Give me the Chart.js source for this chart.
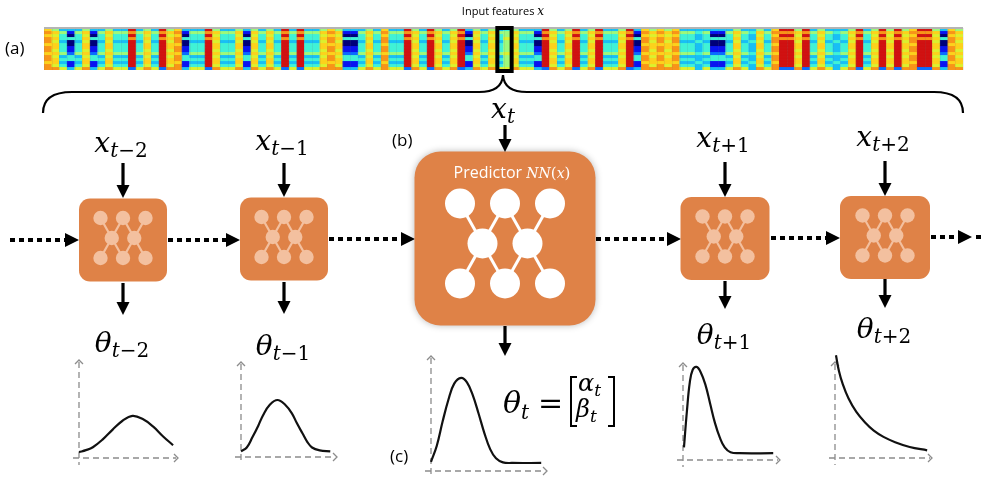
<!DOCTYPE html>
<html>
<head>
<meta charset="utf-8">
<script src="https://cdn.jsdelivr.net/npm/chart.js@4.4.1/dist/chart.umd.min.js"></script>
<style>
  html, body { margin: 0; padding: 0; background: #fff; }
  #stage { position: relative; width: 981px; height: 477px; overflow: hidden; background: #fff; }
  .frame { position: absolute; }
</style>
</head>
<body>
<div id="stage">
  <div class="frame" style="left:0;top:0;width:981px;height:477px"><canvas id="diagram"></canvas></div>
  <div class="frame" style="left:36px;top:20px;width:935px;height:58px"><canvas id="strip"></canvas></div>
</div>
<script>
// ---- input feature strip: one letter per time column, one digit per feature row ----
const featureColumns = [
  "OYCBCYBCYC", "CRCYCRYOBC", "CRYCCYBYCY", "CRCRCCYOYB",
  "BCYCOCCRYC", "RYCYRBYCYC", "GYCCBRYCYR", "CYRCCYRBOY",
  "OYOCCLCBBC", "YCLYCORRYR", "CYCLCYRCYR", "YRYORRYBOY"
].join("");
const columnLevels = {
  B: "31040011244113",
  R: "98989999999992",
  C: "35443444534346",
  Y: "57676776767768",
  O: "78788788788788",
  G: "45565555655556",
  L: "34334333433433"
};
const selectedColumns = [59, 60];

// ---- time steps and the distributions predicted at each one ----
const steps = ["t\u22122", "t\u22121", "t", "t+1", "t+2"];
const densityTm2 = [[0,6],[7,8],[14,11],[24,19],[34,29],[44,38],[54,43],[64,40],[75,32],[85,22],[95,13]];
const densityTm1 = [[0,6],[6,10],[12,21],[18,33],[23,44],[30,55],[38,60],[46,55],[53,46],[58,36],[64,25],[69,16],[74,10],[82,7],[93,6]];
const densityT   = [[0,8],[5,22],[10,43],[15,62],[20,76],[26,81],[31,77],[36,66],[41,50],[46,33],[51,19],[56,11],[62,7.5],[70,7],[95,7]];
const densityTp1 = [[1,13],[4,50],[7,80],[10,93],[14,96],[18,91],[23,78],[28,58],[33,38],[38,23],[43,13],[49,8],[58,7],[93,7]];
const densityTp2 = [[1,107],[4,91],[8,77],[14,62],[22,48],[31,37],[40,28.5],[50,22],[62,16.5],[77,11.5],[95,8]];
const densities = [densityTm2, densityTm1, densityT, densityTp1, densityTp2];

// ---- styling / layout ----
const jet = ["#00007a", "#0a14f0", "#0a6cff", "#18bff5", "#40f2d6", "#9ef97a", "#dcf02e", "#fcd21c", "#f89418", "#d01212"];
const ORANGE = "#df8247";
const PEACH = "#f3c09f";
const SERIF = '"DejaVu Serif"';
const SANS = '"Open Sans"';

const nodeLayout = [
  { cx: 123, cy: 240,   w: 88,  h: 83,  r: 11, labelY: 152, thetaY: 352, inTop: 163, inTip: 198, outTop: 283, outTip: 315 },
  { cx: 284, cy: 239,   w: 88,  h: 83,  r: 11, labelY: 150, thetaY: 355, inTop: 163, inTip: 197, outTop: 282, outTip: 314 },
  { cx: 505, cy: 238.5, w: 181, h: 174, r: 26, labelY: 118, inTop: 125, inTip: 152, outTop: 326, outTip: 356, big: true },
  { cx: 725, cy: 238.5, w: 89,  h: 83,  r: 11, labelY: 147, thetaY: 344, inTop: 162, inTip: 197, outTop: 281, outTip: 309 },
  { cx: 885, cy: 237.5, w: 90,  h: 83,  r: 11, labelY: 146, thetaY: 338, inTop: 161, inTip: 196, outTop: 279, outTip: 308 }
];
const chainLinks = [[10, 79, 240], [168, 240, 240], [329, 415, 239], [596, 681, 239], [771, 840, 238], [931, 972, 237]];
const plotFrames = [
  { ox: 79,  oy: 458, w: 99,  h: 98 },
  { ox: 241, oy: 457, w: 96,  h: 95 },
  { ox: 431, oy: 471, w: 116, h: 115 },
  { ox: 683, oy: 460, w: 97,  h: 97 },
  { ox: 835, oy: 458, w: 97,  h: 96 }
];

// ---------- helpers ----------
function roundedBox(ctx, x, y, w, h, r) {
  ctx.beginPath();
  ctx.moveTo(x + r, y);
  ctx.arcTo(x + w, y, x + w, y + h, r);
  ctx.arcTo(x + w, y + h, x, y + h, r);
  ctx.arcTo(x, y + h, x, y, r);
  ctx.arcTo(x, y, x + w, y, r);
  ctx.closePath();
}

function drawPieces(ctx, pieces, cx, align) {
  let total = 0;
  pieces.forEach(p => { ctx.font = p.font; p.wd = ctx.measureText(p.text).width; total += p.wd + (p.gap || 0); });
  let x = align === "left" ? cx : cx - total / 2;
  ctx.textAlign = "left";
  ctx.textBaseline = "alphabetic";
  pieces.forEach(p => {
    ctx.font = p.font;
    ctx.fillText(p.text, x, p.y);
    x += p.wd + (p.gap || 0);
  });
}

function scriptPieces(symbol, sub, base, size, subSize) {
  const out = [{ text: symbol, font: `italic ${size}px ${SERIF}`, y: base }];
  out.push({ text: sub[0], font: `italic ${subSize}px ${SERIF}`, y: base + 5 });
  if (sub.length > 1) out.push({ text: sub.slice(1), font: `${subSize}px ${SERIF}`, y: base + 5 });
  return out;
}

function downArrow(ctx, x, y0, y1) {
  ctx.beginPath();
  ctx.lineWidth = 3.2;
  ctx.moveTo(x, y0);
  ctx.lineTo(x, y1 - 11);
  ctx.stroke();
  ctx.beginPath();
  ctx.moveTo(x - 6.5, y1 - 13);
  ctx.lineTo(x + 6.5, y1 - 13);
  ctx.lineTo(x, y1);
  ctx.closePath();
  ctx.fill();
}

function dottedArrow(ctx, x0, x1, y) {
  ctx.save();
  ctx.lineWidth = 4;
  ctx.setLineDash([5, 4]);
  ctx.beginPath();
  ctx.moveTo(x0, y);
  ctx.lineTo(x1 - 13, y);
  ctx.stroke();
  ctx.restore();
  ctx.beginPath();
  ctx.moveTo(x1 - 14, y - 7);
  ctx.lineTo(x1, y);
  ctx.lineTo(x1 - 14, y + 7);
  ctx.closePath();
  ctx.fill();
}

// small network glyph: 3 inputs, 2 hidden, 3 outputs
function networkGlyph(ctx, cx, cy, k, color, lw, rad) {
  const top = [[-45, -40], [0, -40], [45, -40]];
  const mid = [[-22.5, 0], [22.5, 0]];
  const bot = [[-45, 40], [0, 40], [45, 40]];
  const P = p => [cx + p[0] * k, cy + p[1] * k];
  const edges = [[top[0], mid[0]], [top[1], mid[0]], [top[1], mid[1]], [top[2], mid[1]],
                 [mid[0], bot[0]], [mid[0], bot[1]], [mid[1], bot[1]], [mid[1], bot[2]]];
  ctx.strokeStyle = color;
  ctx.fillStyle = color;
  ctx.lineWidth = lw;
  edges.forEach(([a, b]) => {
    const pa = P(a), pb = P(b);
    ctx.beginPath(); ctx.moveTo(pa[0], pa[1]); ctx.lineTo(pb[0], pb[1]); ctx.stroke();
  });
  [...top, ...mid, ...bot].forEach(p => {
    const q = P(p);
    ctx.beginPath(); ctx.arc(q[0], q[1], rad, 0, Math.PI * 2); ctx.fill();
  });
}

// ---------- diagram layer ----------
const diagramPlugin = {
  id: "diagram",
  afterDraw(chart) {
    const ctx = chart.ctx;
    const X = v => chart.scales.x.getPixelForValue(v);
    const Y = v => chart.scales.y.getPixelForValue(v);
    ctx.save();
    ctx.fillStyle = "#000";
    ctx.strokeStyle = "#000";

    // caption above the strip
    drawPieces(ctx, [
      { text: "Input features ", font: `11px ${SANS}`, y: Y(15) },
      { text: "x", font: `italic 12px ${SERIF}`, y: Y(15) }
    ], X(503));
    ctx.font = `17px ${SANS}`;
    ctx.textAlign = "left";
    ctx.fillText("(a)", X(5), Y(54));
    ctx.fillText("(b)", X(392), Y(146));
    ctx.fillText("(c)", X(390), Y(462));

    // brace spanning the whole sequence
    ctx.lineWidth = 2.2;
    ctx.beginPath();
    ctx.moveTo(X(43), Y(113));
    ctx.bezierCurveTo(X(43), Y(100), X(52), Y(92), X(72), Y(92));
    ctx.lineTo(X(479), Y(92));
    ctx.quadraticCurveTo(X(502), Y(92), X(503), Y(75));
    ctx.quadraticCurveTo(X(504), Y(92), X(527), Y(92));
    ctx.lineTo(X(934), Y(92));
    ctx.bezierCurveTo(X(954), Y(92), X(963), Y(100), X(963), Y(113));
    ctx.stroke();

    // chain of dotted arrows between the steps
    chainLinks.forEach(([a, b, y]) => dottedArrow(ctx, X(a), X(b), Y(y)));
    ctx.fillRect(X(976), Y(237) - 2, 5, 4);

    nodeLayout.forEach((n, i) => {
      const x0 = X(n.cx - n.w / 2), y0 = Y(n.cy - n.h / 2);
      ctx.save();
      if (n.big) { ctx.shadowColor = "rgba(0,0,0,0.28)"; ctx.shadowBlur = 7; }
      ctx.fillStyle = ORANGE;
      roundedBox(ctx, x0, y0, n.w, n.h, n.r);
      ctx.fill();
      ctx.restore();

      if (n.big) {
        networkGlyph(ctx, X(n.cx), Y(n.cy + 5), 1, "#fff", 3, 15);
        ctx.fillStyle = "#fff";
        drawPieces(ctx, [
          { text: "Predictor ", font: `16px ${SANS}`, y: Y(178) },
          { text: "NN", font: `italic 14px ${SERIF}`, y: Y(178) },
          { text: "(", font: `15px ${SERIF}`, y: Y(178) },
          { text: "x", font: `italic 14px ${SERIF}`, y: Y(178) },
          { text: ")", font: `15px ${SERIF}`, y: Y(178) }
        ], X(512));
      } else {
        networkGlyph(ctx, X(n.cx), Y(n.cy - 2), 0.5, PEACH, 2.2, 7.2);
      }

      ctx.fillStyle = "#000";
      ctx.strokeStyle = "#000";
      downArrow(ctx, X(n.cx), Y(n.inTop), Y(n.inTip));
      downArrow(ctx, X(n.cx), Y(n.outTop), Y(n.outTip));
      drawPieces(ctx, scriptPieces("x", steps[i], Y(n.labelY), 28, 20), X(n.cx - 2));
      if (!n.big) {
        drawPieces(ctx, scriptPieces("\u03b8", steps[i], Y(n.thetaY), 28, 20), X(n.cx - 1));
      }
    });

    // parameter vector of the current step
    drawPieces(ctx, [
      { text: "\u03b8", font: `italic 30px ${SERIF}`, y: Y(413) },
      { text: "t", font: `italic 20px ${SERIF}`, y: Y(419), gap: 9 },
      { text: "=", font: `30px ${SERIF}`, y: Y(413) }
    ], X(503), "left");
    ctx.lineWidth = 2;
    ctx.beginPath();
    ctx.moveTo(X(577), Y(377)); ctx.lineTo(X(571), Y(377)); ctx.lineTo(X(571), Y(426)); ctx.lineTo(X(577), Y(426));
    ctx.moveTo(X(608), Y(377)); ctx.lineTo(X(614), Y(377)); ctx.lineTo(X(614), Y(426)); ctx.lineTo(X(608), Y(426));
    ctx.stroke();
    drawPieces(ctx, [
      { text: "\u03b1", font: `italic 24px ${SERIF}`, y: Y(391) },
      { text: "t", font: `italic 17px ${SERIF}`, y: Y(396) }
    ], X(578), "left");
    drawPieces(ctx, [
      { text: "\u03b2", font: `italic 24px ${SERIF}`, y: Y(417) },
      { text: "t", font: `italic 17px ${SERIF}`, y: Y(422) }
    ], X(576), "left");
    ctx.restore();
  }
};

new Chart(document.getElementById("diagram"), {
  type: "scatter",
  data: { datasets: [] },
  options: {
    responsive: true, maintainAspectRatio: false, animation: false, events: [],
    layout: { padding: 0 },
    plugins: { legend: { display: false }, tooltip: { enabled: false } },
    scales: {
      x: { type: "linear", min: 0, max: 981, display: false },
      y: { type: "linear", min: 0, max: 477, reverse: true, display: false }
    }
  },
  plugins: [diagramPlugin]
});

// ---------- heat strip ----------
const columnKeys = featureColumns.split("");
const rowCount = columnLevels.B.length;
const stripDatasets = [];
for (let r = 0; r < rowCount; r++) {
  const fills = columnKeys.map(k => jet[+columnLevels[k][r]]);
  stripDatasets.push({
    data: columnKeys.map(() => 1),
    backgroundColor: fills,
    borderColor: fills,
    borderWidth: 0.6,
    borderSkipped: false,
    barPercentage: 1,
    categoryPercentage: 1
  });
}
const stripPlugin = {
  id: "stripFrame",
  afterDatasetsDraw(chart) {
    const ctx = chart.ctx, a = chart.chartArea, xs = chart.scales.x;
    const bw = xs.getPixelForValue(1) - xs.getPixelForValue(0);
    ctx.save();
    // faint cell grid
    ctx.strokeStyle = "rgba(110,110,110,0.13)";
    ctx.lineWidth = 1;
    ctx.beginPath();
    for (let c = 0; c <= columnKeys.length; c++) {
      const x = Math.round(xs.getPixelForValue(c) - bw / 2) + 0.5;
      ctx.moveTo(x, a.top); ctx.lineTo(x, a.bottom);
    }
    ctx.stroke();
    ctx.strokeStyle = "#b4b4b4";
    ctx.lineWidth = 2;
    ctx.beginPath(); ctx.moveTo(a.left, a.top); ctx.lineTo(a.right, a.top); ctx.stroke();
    const left = xs.getPixelForValue(selectedColumns[0]) - bw / 2 + 1.5;
    const right = xs.getPixelForValue(selectedColumns[selectedColumns.length - 1]) + bw / 2 + 0.5;
    ctx.strokeStyle = "#000";
    ctx.lineWidth = 4;
    ctx.strokeRect(left, a.top, right - left, a.bottom - a.top + 1);
    ctx.restore();
  }
};
new Chart(document.getElementById("strip"), {
  type: "bar",
  data: { labels: columnKeys.map((_, i) => i), datasets: stripDatasets },
  options: {
    responsive: true, maintainAspectRatio: false, animation: false, events: [],
    layout: { padding: 8 },
    plugins: { legend: { display: false }, tooltip: { enabled: false } },
    scales: {
      x: { stacked: true, display: false },
      y: { stacked: true, display: false, min: 0, max: rowCount, reverse: true }
    }
  },
  plugins: [stripPlugin]
});

// ---------- small density sketches ----------
const axesPlugin = {
  id: "sketchAxes",
  beforeDatasetsDraw(chart) {
    const ctx = chart.ctx, xs = chart.scales.x, ys = chart.scales.y;
    const ox = xs.getPixelForValue(0), oy = ys.getPixelForValue(0);
    const xe = xs.getPixelForValue(100), ye = ys.getPixelForValue(100);
    ctx.save();
    ctx.strokeStyle = "#8c8c8c";
    ctx.lineWidth = 1.3;
    ctx.setLineDash([6, 4]);
    ctx.beginPath();
    ctx.moveTo(ox, ye + 2); ctx.lineTo(ox, oy + 7);
    ctx.moveTo(ox - 6, oy); ctx.lineTo(xe - 2, oy);
    ctx.stroke();
    ctx.setLineDash([]);
    ctx.beginPath();
    ctx.moveTo(ox - 4, ye + 4); ctx.lineTo(ox, ye); ctx.lineTo(ox + 4, ye + 4);
    ctx.moveTo(xe - 4, oy - 4); ctx.lineTo(xe, oy); ctx.lineTo(xe - 4, oy + 4);
    ctx.stroke();
    ctx.restore();
  }
};

const stage = document.getElementById("stage");
plotFrames.forEach((f, i) => {
  const padL = 10, padR = 8, padT = 14, padB = 10;
  const div = document.createElement("div");
  div.className = "frame";
  div.style.left = (f.ox - padL) + "px";
  div.style.top = (f.oy - f.h - padT) + "px";
  div.style.width = (f.w + padL + padR) + "px";
  div.style.height = (f.h + padT + padB) + "px";
  const cv = document.createElement("canvas");
  div.appendChild(cv);
  stage.appendChild(div);
  new Chart(cv, {
    type: "line",
    data: {
      datasets: [{
        data: densities[i].map(([x, y]) => ({ x, y })),
        borderColor: "#111",
        borderWidth: 2.2,
        pointRadius: 0,
        fill: false,
        tension: 0.4,
        clip: false
      }]
    },
    options: {
      responsive: true, maintainAspectRatio: false, animation: false, events: [],
      layout: { padding: 0 },
      plugins: { legend: { display: false }, tooltip: { enabled: false } },
      scales: {
        x: { type: "linear", display: false, min: -padL / f.w * 100, max: 100 + padR / f.w * 100 },
        y: { type: "linear", display: false, min: -padB / f.h * 100, max: 100 + padT / f.h * 100 }
      }
    },
    plugins: [axesPlugin]
  });
});
</script>
</body>
</html>
